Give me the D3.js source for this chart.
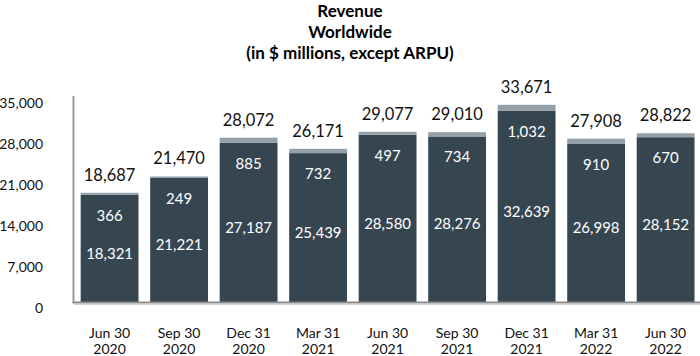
<!DOCTYPE html>
<html>
<head>
<meta charset="utf-8">
<script src="https://cdn.jsdelivr.net/npm/d3@7"></script>
<style>
  html, body { margin: 0; padding: 0; background: #fff; }
  svg { display: block; font-family: Lato, "Open Sans", sans-serif; }
</style>
</head>
<body>
<svg id="chart" width="700" height="356"></svg>
<script>
const quarters = [["Jun 30","2020"],["Sep 30","2020"],["Dec 31","2020"],["Mar 31","2021"],["Jun 30","2021"],["Sep 30","2021"],["Dec 31","2021"],["Mar 31","2022"],["Jun 30","2022"]];
const baseValues = [18321, 21221, 27187, 25439, 28580, 28276, 32639, 26998, 28152];
const topValues = [366, 249, 885, 732, 497, 734, 1032, 910, 670];
const totals = [18687, 21470, 28072, 26171, 29077, 29010, 33671, 27908, 28822];
const yTicks = [0, 7000, 14000, 21000, 28000, 35000];
const titleLines = ["Revenue", "Worldwide", "(in $ millions, except ARPU)"];

const svg = d3.select("#chart");
const darkColor = "#364651";
const lightColor = "#94a0a9";

const x = d3.scaleBand()
  .domain(d3.range(quarters.length))
  .range([74, 701.2])
  .paddingInner(0.168)
  .paddingOuter(0.096);

const y = d3.scaleLinear().domain([0, 35000]).range([302.5, 97]);

const fmt = d3.format(",");

// Title
svg.append("g").selectAll("text").data(titleLines).join("text")
  .attr("x", 350).attr("y", (d, i) => 10 + i * 21)
  .attr("text-anchor", "middle").attr("dominant-baseline", "central")
  .style("font-weight", "bold").style("font-size", "17px").attr("fill", "#000")
  .text(d => d);

// Y axis labels
svg.append("g").selectAll("text").data(yTicks).join("text")
  .attr("x", 43).attr("y", d => y(d) + 5)
  .attr("text-anchor", "end").attr("dominant-baseline", "central")
  .style("font-size", "14px").attr("fill", "#111")
  .text(d => fmt(d));

// Bars
const g = svg.append("g");
g.selectAll("rect.base").data(baseValues).join("rect")
  .attr("class", "base")
  .attr("x", (d, i) => x(i)).attr("width", x.bandwidth())
  .attr("y", d => y(d)).attr("height", d => y(0) - y(d))
  .attr("fill", darkColor);

g.selectAll("rect.top").data(topValues).join("rect")
  .attr("class", "top")
  .attr("x", (d, i) => x(i)).attr("width", x.bandwidth())
  .attr("y", (d, i) => y(baseValues[i] + d)).attr("height", (d, i) => y(baseValues[i]) - y(baseValues[i] + d))
  .attr("fill", lightColor);

// Axis lines
svg.append("line").attr("x1", 73.5).attr("x2", 73.5).attr("y1", 96).attr("y2", 303)
  .attr("stroke", "#9a9a9a").attr("stroke-width", 2);
svg.append("line").attr("x1", 72.5).attr("x2", 700).attr("y1", 302.5).attr("y2", 302.5)
  .attr("stroke", "#8a8a8a").attr("stroke-width", 2);
svg.append("line").attr("x1", 74).attr("x2", 700).attr("y1", 304.5).attr("y2", 304.5)
  .attr("stroke", "#d0d0d0").attr("stroke-width", 1);

// Base value labels
svg.append("g").selectAll("text").data(baseValues).join("text")
  .attr("x", (d, i) => x(i) + x.bandwidth() / 2)
  .attr("y", d => (y(d) + y(0)) / 2 + 4)
  .attr("text-anchor", "middle").attr("dominant-baseline", "central")
  .style("font-size", "15px").attr("fill", "#fff")
  .text(d => fmt(d));

// Top value labels
svg.append("g").selectAll("text").data(topValues).join("text")
  .attr("x", (d, i) => x(i) + x.bandwidth() / 2)
  .attr("y", (d, i) => y(baseValues[i]) + 20)
  .attr("text-anchor", "middle").attr("dominant-baseline", "central")
  .style("font-size", "15px").attr("fill", "#fff")
  .text(d => fmt(d));

// Totals
svg.append("g").selectAll("text").data(totals).join("text")
  .attr("x", (d, i) => x(i) + x.bandwidth() / 2)
  .attr("y", d => y(d) - 18)
  .attr("text-anchor", "middle").attr("dominant-baseline", "central")
  .style("font-size", "16.5px").attr("fill", "#111")
  .text(d => fmt(d));

// X labels
const xl = svg.append("g").selectAll("text").data(quarters).join("text")
  .attr("x", (d, i) => x(i) + x.bandwidth() / 2)
  .attr("text-anchor", "middle")
  .style("font-size", "14px").attr("fill", "#111");
xl.append("tspan").attr("x", (d, i) => x(i) + x.bandwidth() / 2).attr("y", 332).attr("dominant-baseline", "central").text(d => d[0]);
xl.append("tspan").attr("x", (d, i) => x(i) + x.bandwidth() / 2).attr("y", 348).attr("dominant-baseline", "central").text(d => d[1]);
</script>
</body>
</html>
